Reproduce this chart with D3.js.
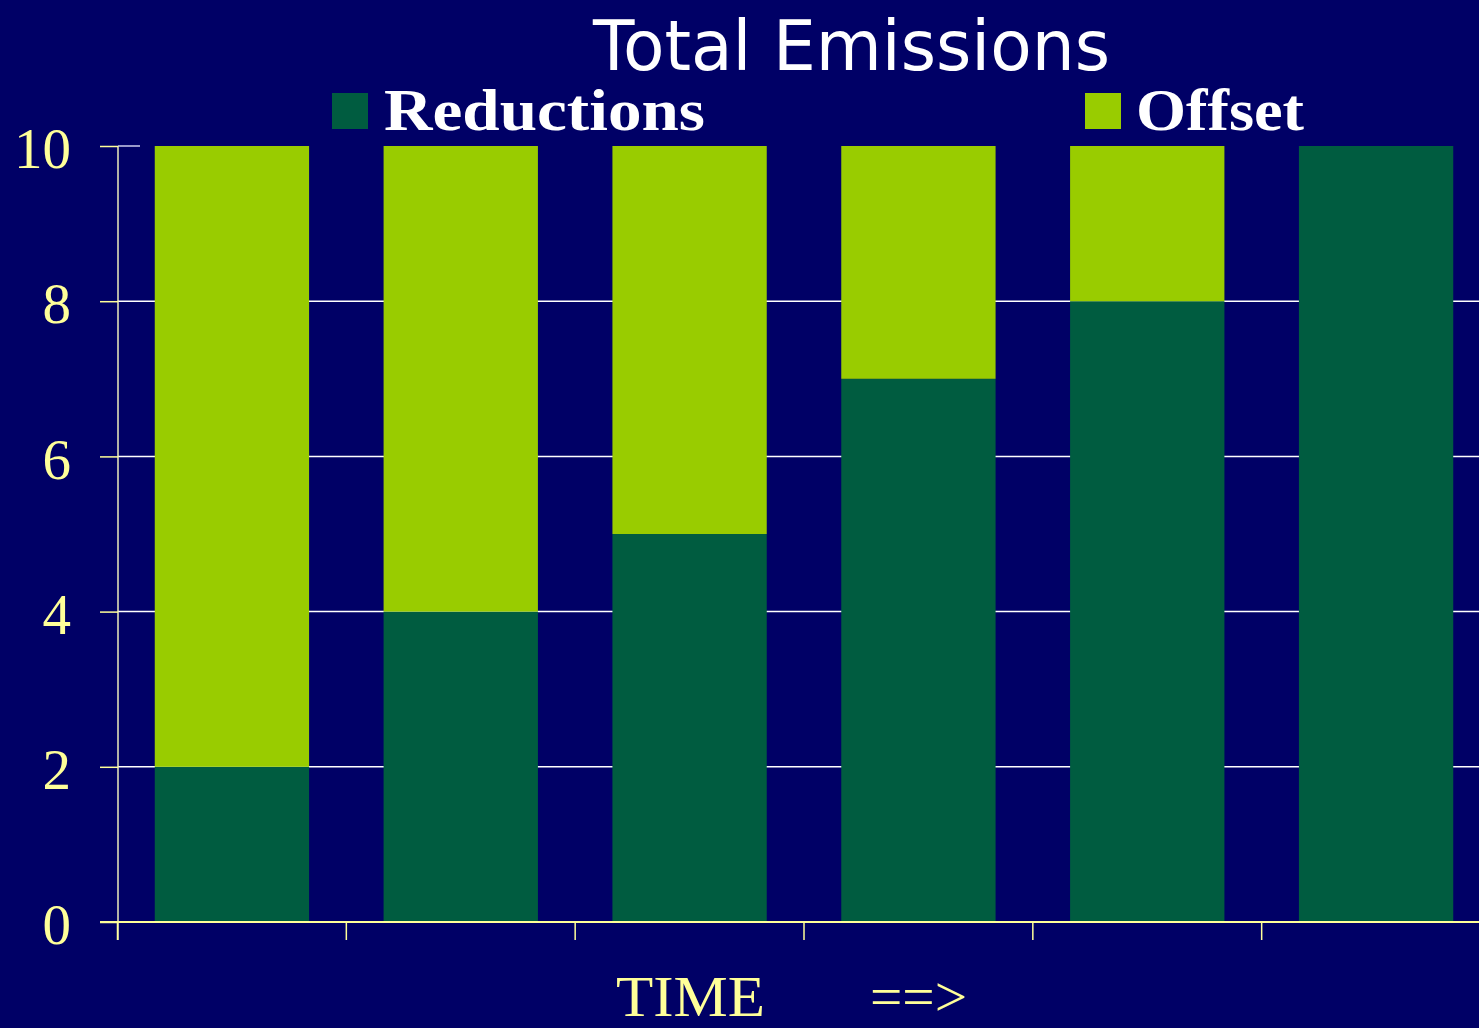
<!DOCTYPE html>
<html>
<head>
<meta charset="utf-8">
<script src="https://cdn.jsdelivr.net/npm/d3@7"></script>
<style>
  body { margin: 0; background: #000066; overflow: hidden; }
</style>
</head>
<body>
<div id="chart"></div>
<script>
// data
var periods = ["T1", "T2", "T3", "T4", "T5", "T6"];
var reductions = [2, 4, 5, 7, 8, 10];
var offset = [8, 6, 5, 3, 2, 0];
var seriesNames = ["Reductions", "Offset"];
var yTicks = [0, 2, 4, 6, 8, 10];

var svgWidth = 1479;
var svgHeight = 1028;
var colors = { Reductions: "#005c40", Offset: "#99cc00" };
var yellow = "#ffff99";

var svg = d3.select("#chart")
  .append("svg")
  .attr("width", svgWidth)
  .attr("height", svgHeight)
  .style("background", "#000066");

// plot area runs past the right edge, as in the original slide
var xScale = d3.scaleBand()
  .domain(periods)
  .range([118, 1491])
  .paddingInner(0.33)
  .paddingOuter(0.165);

var yScale = d3.scaleLinear()
  .domain([0, 10])
  .range([922, 146]);

var table = periods.map(function(p, i) {
  return { period: p, Reductions: reductions[i], Offset: offset[i] };
});
var stacked = d3.stack().keys(seriesNames)(table);

// gridlines (2..8 only)
svg.append("g")
  .selectAll("line")
  .data(yTicks.filter(d => d > 0 && d < 10))
  .enter()
  .append("line")
  .attr("x1", 118)
  .attr("x2", svgWidth)
  .attr("y1", d => yScale(d))
  .attr("y2", d => yScale(d))
  .attr("stroke", "#ffffff")
  .attr("stroke-width", 1.5);

// short top line at 10
svg.append("line")
  .attr("x1", 118).attr("x2", 140)
  .attr("y1", yScale(10)).attr("y2", yScale(10))
  .attr("stroke", "#ccccee").attr("stroke-width", 1.5);

// bars
svg.append("g")
  .selectAll("g")
  .data(stacked)
  .enter()
  .append("g")
  .attr("fill", d => colors[d.key])
  .selectAll("rect")
  .data(d => d)
  .enter()
  .append("rect")
  .attr("x", d => xScale(d.data.period) - 1)
  .attr("width", xScale.bandwidth() + 1)
  .attr("y", d => yScale(d[1]))
  .attr("height", d => yScale(d[0]) - yScale(d[1]));

// y axis
var leftAxis = d3.axisLeft(yScale)
  .tickValues(yTicks)
  .tickSize(18)
  .tickPadding(29)
  .tickFormat(d3.format("d"));

var yAxis = svg.append("g")
  .attr("transform", "translate(118,0)")
  .call(leftAxis);
yAxis.select(".domain")
  .attr("d", "M0,146V940")
  .attr("stroke", "#eeeebb")
  .attr("stroke-width", 1.5);
yAxis.selectAll(".tick line").attr("stroke", yellow).attr("stroke-width", 1.5);
yAxis.selectAll(".tick text")
  .attr("fill", yellow)
  .attr("font-family", "'Liberation Serif', serif")
  .attr("font-size", 57)
  .attr("dy", "0.38em");

// x axis: ticks at band boundaries
var boundaries = periods.map(p => xScale(p) - xScale.step() * xScale.paddingInner() / 2 - 0.5);
var xAxisG = svg.append("g");
xAxisG.append("line")
  .attr("x1", 100).attr("x2", svgWidth)
  .attr("y1", yScale(0)).attr("y2", yScale(0))
  .attr("stroke", yellow).attr("stroke-width", 2);
xAxisG.selectAll(".xtick")
  .data(boundaries)
  .enter()
  .append("line")
  .attr("class", "xtick")
  .attr("x1", d => d).attr("x2", d => d)
  .attr("y1", yScale(0)).attr("y2", yScale(0) + 18)
  .attr("stroke", yellow).attr("stroke-width", 1.5);

// title
svg.append("text")
  .attr("x", 593)
  .attr("y", 70)
  .attr("fill", "#ffffff")
  .attr("font-family", "'DejaVu Sans', sans-serif")
  .attr("font-size", 70)
  .attr("textLength", 517)
  .attr("lengthAdjust", "spacingAndGlyphs")
  .text("Total Emissions");

// legend
var legendPos = [
  { name: "Reductions", sx: 332, tx: 384, tw: 321 },
  { name: "Offset", sx: 1085, tx: 1136, tw: 168 }
];
var legend = svg.append("g")
  .selectAll("g")
  .data(legendPos)
  .enter()
  .append("g");
legend.append("rect")
  .attr("x", d => d.sx)
  .attr("y", 93)
  .attr("width", 36)
  .attr("height", 36)
  .attr("fill", d => colors[d.name]);
legend.append("text")
  .attr("x", d => d.tx)
  .attr("y", 130)
  .attr("fill", "#ffffff")
  .attr("font-family", "'Liberation Serif', serif")
  .attr("font-weight", "bold")
  .attr("font-size", 60)
  .attr("textLength", d => d.tw)
  .attr("lengthAdjust", "spacingAndGlyphs")
  .text(d => d.name);

// x label
svg.append("text")
  .attr("x", 616)
  .attr("y", 1016)
  .attr("fill", yellow)
  .attr("font-family", "'Liberation Serif', serif")
  .attr("font-size", 58)
  .attr("textLength", 149)
  .attr("lengthAdjust", "spacingAndGlyphs")
  .text("TIME");
svg.append("text")
  .attr("x", 870)
  .attr("y", 1016)
  .attr("fill", yellow)
  .attr("font-family", "'Liberation Serif', serif")
  .attr("font-size", 58)
  .attr("textLength", 97)
  .attr("lengthAdjust", "spacingAndGlyphs")
  .text("==>");
</script>
</body>
</html>
